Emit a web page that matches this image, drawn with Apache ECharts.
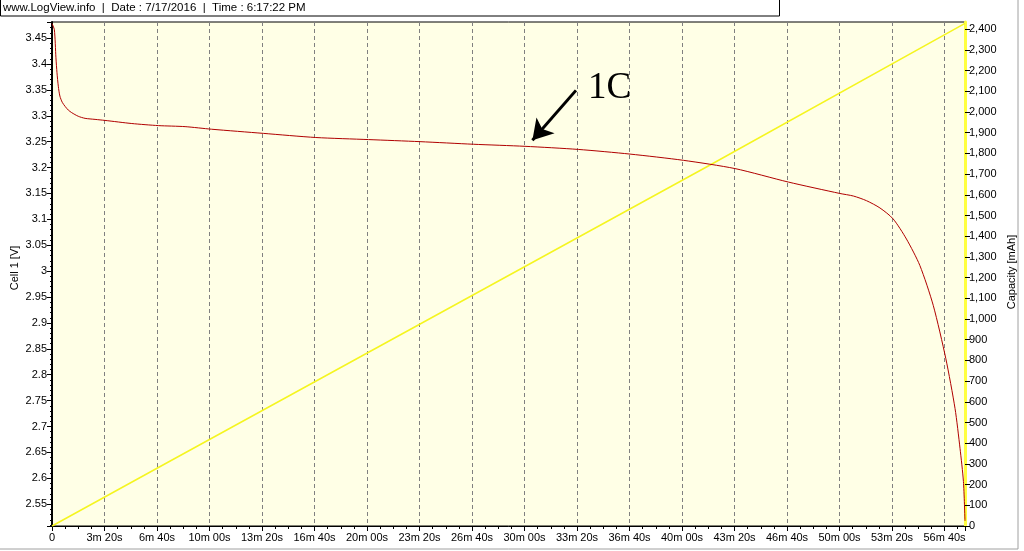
<!DOCTYPE html>
<html>
<head>
<meta charset="utf-8">
<title>Cell 1 discharge</title>
<script src="https://cdn.jsdelivr.net/npm/echarts@6/dist/echarts.min.js"></script>
<style>
  html, body { margin: 0; padding: 0; background: #fff; }
  #chart { width: 1024px; height: 551px; }
</style>
</head>
<body>
<div id="chart"></div>
<script>
  // time in seconds, cell voltage in V
  var timeSec = [0, 9, 15, 19, 24, 30, 39, 50, 62, 75, 100, 126, 164, 202, 304, 405, 507, 608,
    805, 1005, 1206, 1402, 1605, 1802, 2005, 2202, 2405, 2602, 2805, 3001, 3053, 3103, 3154,
    3204, 3255, 3306, 3357, 3405, 3440, 3459, 3472, 3478];
  var cellVolt = [3.478, 3.466, 3.412, 3.383, 3.357, 3.338, 3.326, 3.318, 3.311, 3.306, 3.299, 3.295, 3.293, 3.291, 3.285, 3.281, 3.279, 3.274,
    3.266, 3.258, 3.254, 3.250, 3.245, 3.241, 3.235, 3.226, 3.214, 3.198, 3.172, 3.150, 3.145, 3.136, 3.122,
    3.101, 3.062, 3.011, 2.934, 2.831, 2.735, 2.658, 2.594, 2.518];
  // capacity in mAh
  var capTime = [0, 400, 2507, 3478];
  var capMah = [0, 279, 1744, 2428];

  var headerText = 'www.LogView.info  |  Date : 7/17/2016  |  Time : 6:17:22 PM';
  var leftName = 'Cell 1 [V]';
  var rightName = 'Capacity [mAh]';
  var noteText = '1C';
  var arrowFrom = [1996, 3.349];
  var arrowTo = [1830, 3.2525];
  var notePos = [2124, 3.3525];

  var font = 'Liberation Sans';

  function zip(a, b) {
    var out = [];
    for (var i = 0; i < a.length; i++) out.push([a[i], b[i]]);
    return out;
  }

  function fmtTime(v) {
    if (v === 0) return '0';
    var m = Math.floor(v / 60), s = Math.round(v % 60);
    return m + 'm ' + (s < 10 ? '0' : '') + s + 's';
  }

  var chart = echarts.init(document.getElementById('chart'));
  var option = {
    animation: false,
    backgroundColor: '#fff',
    graphic: [
      { type: 'rect', shape: { x: -2, y: -2, width: 1020, height: 551 }, style: { fill: 'none', stroke: '#a0a0a0', lineWidth: 1 }, silent: true },
      { type: 'rect', shape: { x: 0.5, y: -1, width: 779, height: 17 }, style: { fill: '#fff', stroke: '#000', lineWidth: 1 }, silent: true },
      { type: 'text', left: 3, top: 2, style: { text: headerText, fontFamily: font, fontSize: 11.5, fill: '#000' }, silent: true },
      // axis titles
      { type: 'text', x: 14.5, y: 268, rotation: Math.PI / 2, silent: true,
        style: { text: leftName, fontFamily: font, fontSize: 11, fill: '#000', align: 'center', verticalAlign: 'middle' } },
      { type: 'text', x: 1012, y: 272, rotation: Math.PI / 2, silent: true,
        style: { text: rightName, fontFamily: font, fontSize: 11, fill: '#000', align: 'center', verticalAlign: 'middle' } }
    ],
    grid: {
      left: 52, right: 59, top: 22, bottom: 25, outerBoundsMode: 'none',
      show: true, backgroundColor: '#ffffe6', borderColor: '#000', borderWidth: 1
    },
    xAxis: {
      type: 'value', min: 0, max: 3478, interval: 200,
      axisLine: { lineStyle: { color: '#000', width: 1 } },
      axisTick: { length: 5, lineStyle: { color: '#000' } },
      minorTick: { show: true, splitNumber: 4, length: 3, lineStyle: { color: '#000' } },
      axisLabel: { formatter: fmtTime, showMaxLabel: false, color: '#000', fontFamily: font, fontSize: 11, margin: 6 },
      splitLine: { show: true, lineStyle: { color: '#808080', type: [4, 3], width: 1 } }
    },
    yAxis: [
      {
        type: 'value', min: 2.508, max: 3.481, splitNumber: 20, minInterval: 0.05, maxInterval: 0.05,
        axisLine: { show: true, lineStyle: { color: '#000', width: 2 } },
        axisTick: { length: 5, lineStyle: { color: '#000' } },
        minorTick: { show: true, splitNumber: 5, length: 2, lineStyle: { color: '#000' } },
        axisLabel: {
          showMinLabel: false, showMaxLabel: false, color: '#000', fontFamily: font, fontSize: 11, margin: 5,
          formatter: function (v) { return String(+v.toFixed(2)); }
        },
        splitLine: { show: false }
      },
      {
        type: 'value', min: 0, max: 2435, interval: 100, position: 'right',
        axisLine: { show: true, lineStyle: { color: '#ffff40', width: 3 } },
        axisTick: { length: 5, lineStyle: { color: '#000' } },
        axisLabel: {
          showMaxLabel: false, color: '#000', fontFamily: font, fontSize: 11, margin: 4,
          formatter: function (v) { return String(v).replace(/\B(?=(\d{3})+(?!\d))/g, ','); }
        },
        splitLine: { show: false }
      }
    ],
    series: [
      {
        name: 'Capacity', type: 'line', yAxisIndex: 1, data: zip(capTime, capMah),
        showSymbol: false, lineStyle: { color: '#f5f520', width: 1.5 }, z: 2
      },
      {
        name: 'Cell 1', type: 'line', yAxisIndex: 0, data: zip(timeSec, cellVolt),
        showSymbol: false, smooth: 0.25, lineStyle: { color: '#b00000', width: 1 }, z: 3,
        markLine: {
          silent: true, animation: false,
          symbol: ['none', 'arrow'], symbolSize: [18, 20],
          label: { show: false },
          lineStyle: { color: '#000', width: 3, type: 'solid' },
          data: [[{ coord: arrowFrom }, { coord: arrowTo }]]
        },
        markPoint: {
          silent: true, animation: false,
          symbol: 'rect', symbolSize: 1, itemStyle: { color: 'rgba(0,0,0,0)' },
          label: { show: true, position: 'inside', formatter: noteText, color: '#000', fontFamily: 'Liberation Serif', fontSize: 37 },
          data: [{ coord: notePos }]
        }
      }
    ]
  };
  chart.setOption(option);
</script>
</body>
</html>
